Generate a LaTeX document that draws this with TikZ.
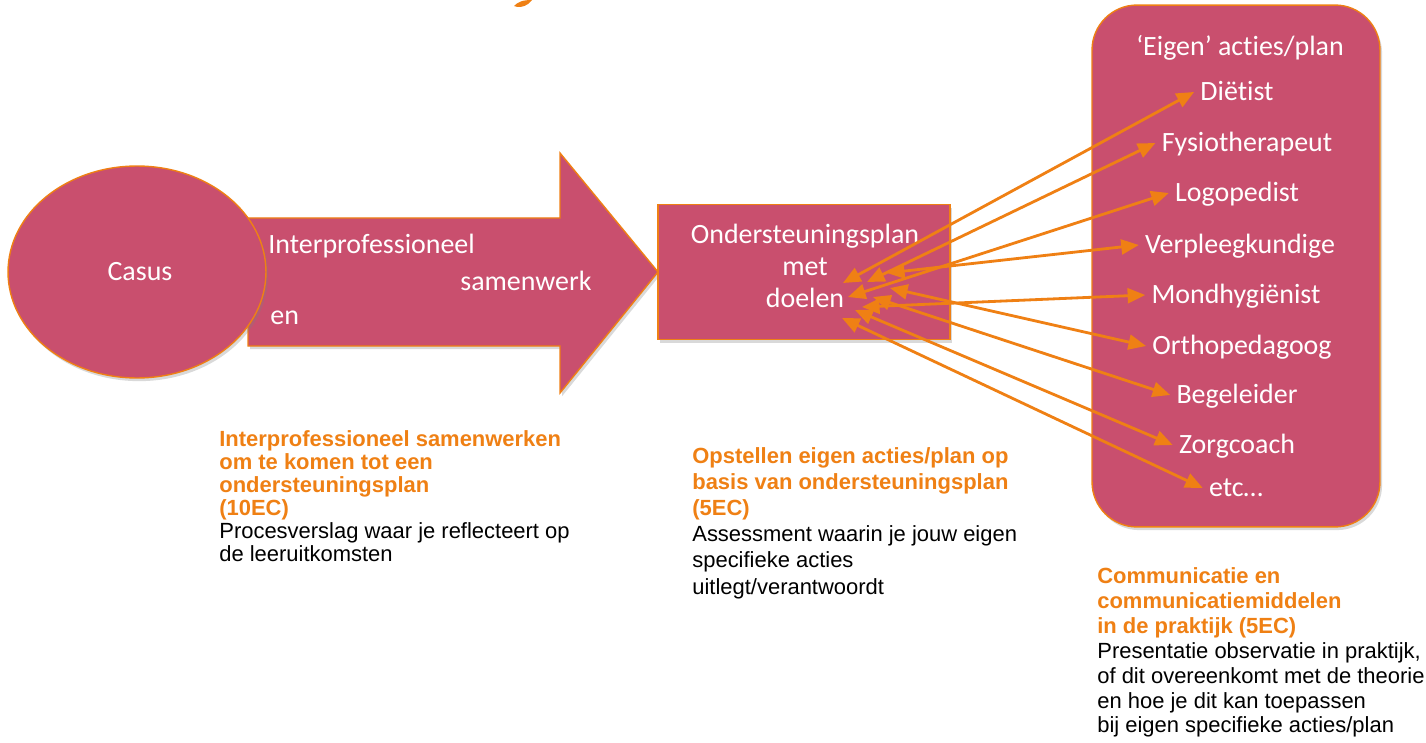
\documentclass[tikz,border=0pt]{standalone}
\usepackage{fontspec}
\setmainfont{Liberation Sans}
\newfontfamily\calibfont[Ligatures=NoCommon]{Carlito}
\usetikzlibrary{shapes.geometric,arrows.meta,shadows}
\definecolor{roze}{RGB}{201,79,110}
\definecolor{oranje}{RGB}{239,128,20}
\newcommand{\kop}[1]{\textcolor{oranje}{\bfseries #1}}

\begin{document}
\begin{tikzpicture}[x=0.02cm,y=-0.02cm,
  blok/.style={fill=roze,draw=oranje,line width=0.8pt,
    drop shadow={shadow xshift=1.2pt,shadow yshift=-1.8pt,opacity=.3}},
  wit/.style={text=white,font=\calibfont\fontsize{15.9}{18.4}\selectfont,
    inner xsep=0.12cm,inner ysep=0pt,text height=2.1ex,text depth=.25ex},
  link/.style={draw=oranje,line width=1.6pt,
    {Triangle[length=10pt,width=8.5pt]}-{Triangle[length=10pt,width=8.5pt]}},
  uitleg/.style={anchor=north west,align=left,inner sep=0pt}]
\useasboundingbox (0,0) rectangle (1426,743);
\fill[oranje] (514,6) .. controls (518,2) and (522,0) .. (532,0) -- (528,4) .. controls (524,7) and (518,8) .. cycle;
\draw[blok] (248,218) -- (560,218) -- (560,153) -- (658,272) -- (560,393) -- (560,346) -- (248,346) -- cycle;
\node[blok,ellipse,minimum width=5.16cm,minimum height=4.24cm,inner sep=0pt] (casus) at (137,272) {};
\node[wit] (casustxt) at (140,272) {Casus};
\node[wit,anchor=west,inner xsep=0pt] (ipA) at (268,245) {Interprofessioneel};
\node[wit,anchor=west,inner xsep=0pt] (ipB) at (460,282) {samenwerk};
\node[wit,anchor=west,inner xsep=0pt] (ipC) at (270,316) {en};
\node[blok,minimum width=5.84cm,minimum height=2.7cm] (plan) at (804,272) {};
\node[align=center,text=white,inner sep=0pt,
  font=\calibfont\fontsize{15.9}{18.4}\selectfont] (plantxt) at (805,266)
  {Ondersteuningsplan\\met\\doelen};
\node[blok,rounded corners=0.9cm,minimum width=5.76cm,minimum height=10.44cm] (eigen) at (1236,266) {};
\node[wit] (eigenkop) at (1240,47) {‘Eigen’ acties/plan};
\node[wit] (diet) at (1237,92) {Diëtist};
\node[wit] (fysio) at (1247,143) {Fysiotherapeut};
\node[wit] (logo) at (1237,193) {Logopedist};
\node[wit] (verpl) at (1240,245) {Verpleegkundige};
\node[wit] (mondh) at (1236,295) {Mondhygiënist};
\node[wit] (ortho) at (1242,346) {Orthopedagoog};
\node[wit] (begel) at (1237,395) {Begeleider};
\node[wit] (zorg) at (1237,445) {Zorgcoach};
\node[wit] (etc) at (1236,488) {etc…};
\coordinate (d1) at (843,283);
\coordinate (d2) at (867,282);
\coordinate (d3) at (848,297);
\coordinate (d4) at (887,273);
\coordinate (d5) at (862,307);
\coordinate (d6) at (890,288);
\coordinate (d7) at (873,297);
\coordinate (d8) at (855,310);
\coordinate (d9) at (842,318);
\draw[link] (d1) -- (diet.west);
\draw[link] (d2) -- (fysio.west);
\draw[link] (d3) -- (logo.west);
\draw[link] (d4) -- (verpl.west);
\draw[link] (d5) -- (mondh.west);
\draw[link] (d6) -- (ortho.west);
\draw[link] (d7) -- (begel.west);
\draw[link] (d8) -- (zorg.west);
\draw[link] (d9) -- (etc.west);
\node[uitleg,font=\fontsize{12.5}{13.1}\selectfont] (uitlegA) at (219,430)
  {\kop{Interprofessioneel samenwerken}\\\kop{om te komen tot een}\\\kop{ondersteuningsplan}\\\kop{(10EC)}\\
   Procesverslag waar je reflecteert op\\de leeruitkomsten};
\node[uitleg,font=\fontsize{12.5}{14.9}\selectfont] (uitlegB) at (692,447)
  {\kop{Opstellen eigen acties/plan op}\\\kop{basis van ondersteuningsplan}\\\kop{(5EC)}\\
   Assessment waarin je jouw eigen\\specifieke acties\\uitlegt/verantwoordt};
\node[uitleg,font=\fontsize{12.5}{14.2}\selectfont] (uitlegC) at (1097,567)
  {\kop{Communicatie en}\\\kop{communicatiemiddelen}\\\kop{in de praktijk (5EC)}\\
   Presentatie observatie in praktijk,\\of dit overeenkomt met de theorie\\en hoe je dit kan toepassen\\bij eigen specifieke acties/plan};
\end{tikzpicture}
\end{document}
